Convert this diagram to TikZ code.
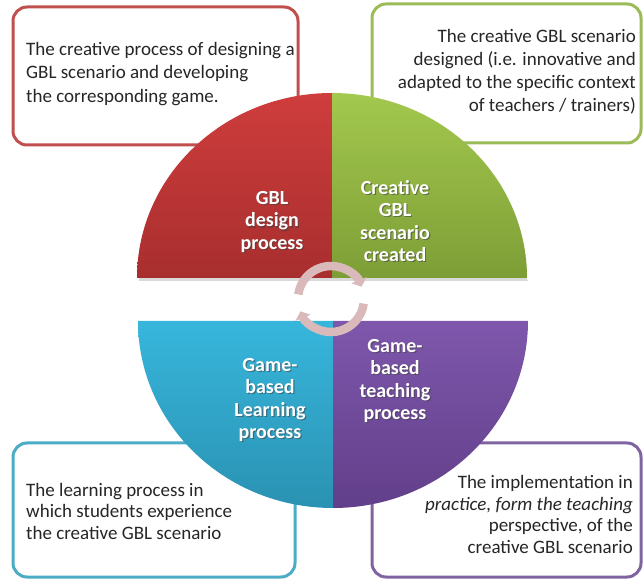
\documentclass[tikz,border=0pt]{standalone}
\usepackage{fontspec}
\setmainfont{Carlito}
\usetikzlibrary{arrows.meta}
\definecolor{cred}{HTML}{C0504D}
\definecolor{cgreen}{HTML}{9BBB59}
\definecolor{cblue}{HTML}{4BACC6}
\definecolor{cpurple}{HTML}{8064A2}
\definecolor{redtop}{HTML}{CF3D3D}
\definecolor{redbot}{HTML}{A82E2E}
\definecolor{greentop}{HTML}{A3C84E}
\definecolor{greenbot}{HTML}{7D9E36}
\definecolor{bluetop}{HTML}{37B6DC}
\definecolor{bluebot}{HTML}{2A92B2}
\definecolor{purptop}{HTML}{7E57AC}
\definecolor{purpbot}{HTML}{623F8A}
\definecolor{ringcol}{HTML}{D9B9B9}
\tikzset{
  infobox/.style={line width=3pt, rounded corners=14pt, fill=white},
  boxtext/.style={inner sep=0pt, font=\fontsize{19}{23.5}\selectfont, text=black!85},
  lbl/.style={inner sep=0pt, align=center, font=\fontsize{20}{22.5}\selectfont\bfseries, text=white},
  lblshadow/.style={lbl, text=black!75, opacity=0.55},
  ring/.style={line width=8.5pt, draw=ringcol, -{Triangle[width=16pt,length=7pt]}}
}
\begin{document}
\begin{tikzpicture}[x=1pt,y=1pt]
\useasboundingbox (0,0) rectangle (643,579);
% boxes
\draw[infobox, draw=cred] (13,434) rectangle (298,572);
\draw[infobox, draw=cgreen] (372,436) rectangle (641,575);
\draw[infobox, draw=cblue] (13,2) rectangle (295,136);
\draw[infobox, draw=cpurple] (372,2) rectangle (641,136);
% box texts
\node[boxtext, anchor=west, align=left] (tl) at (26,505) {The creative process of designing a\\GBL scenario and developing\\the corresponding game.};
\node[boxtext, anchor=east, align=right, font=\fontsize{19}{23}\selectfont] (tr) at (636,507) {The creative GBL scenario\\designed (i.e. innovative and\\adapted to the specific context\\of teachers / trainers)};
\node[boxtext, anchor=west, align=left, font=\fontsize{19}{21.5}\selectfont] (bl) at (26,68) {The learning process in\\which students experience\\the creative GBL scenario};
\node[boxtext, anchor=east, align=right, font=\fontsize{19}{21.5}\selectfont] (br) at (633,64.5) {The implementation in\\{\itshape practice, form the teaching}\\perspective, of the\\creative GBL scenario};
% disc shadows
\fill[black, opacity=0.15] (139,298) -- (139,299) arc (180:0:194 and 185) -- (528,298) -- cycle;
% top half disc
\shade[top color=redtop, bottom color=redbot] (332,301) -- (137,301) arc (180:90:195 and 185) -- cycle;
\shade[top color=greentop, bottom color=greenbot] (332,301) -- (332,486) arc (90:0:195 and 185) -- cycle;
% bottom half disc
\shade[top color=bluetop, bottom color=bluebot] (333,258) -- (138,258) arc (180:270:195 and 187) -- cycle;
\shade[top color=purptop, bottom color=purpbot] (333,258) -- (333,71) arc (270:360:195 and 187) -- cycle;
% ring arrows
\coordinate (rc) at (331,280);
\draw[ring] ([shift={(172:33)}]rc) arc (172:22:33);
\draw[ring] ([shift={(-8:33)}]rc) arc (-8:-158:33);
% disc labels
\node[lblshadow] at (273.2,355.8) {GBL\\design\\process};
\node[lbl] (l1) at (272,357) {GBL\\design\\process};
\node[lblshadow] at (396.2,356.8) {Creative\\GBL\\scenario\\created};
\node[lbl] (l2) at (395,358) {Creative\\GBL\\scenario\\created};
\node[lblshadow] at (271.2,177.8) {Game-\\based\\Learning\\process};
\node[lbl] (l3) at (270,179) {Game-\\based\\Learning\\process};
\node[lblshadow] at (396.2,196.8) {Game-\\based\\teaching\\process};
\node[lbl] (l4) at (395,198) {Game-\\based\\teaching\\process};
\end{tikzpicture}
\end{document}
